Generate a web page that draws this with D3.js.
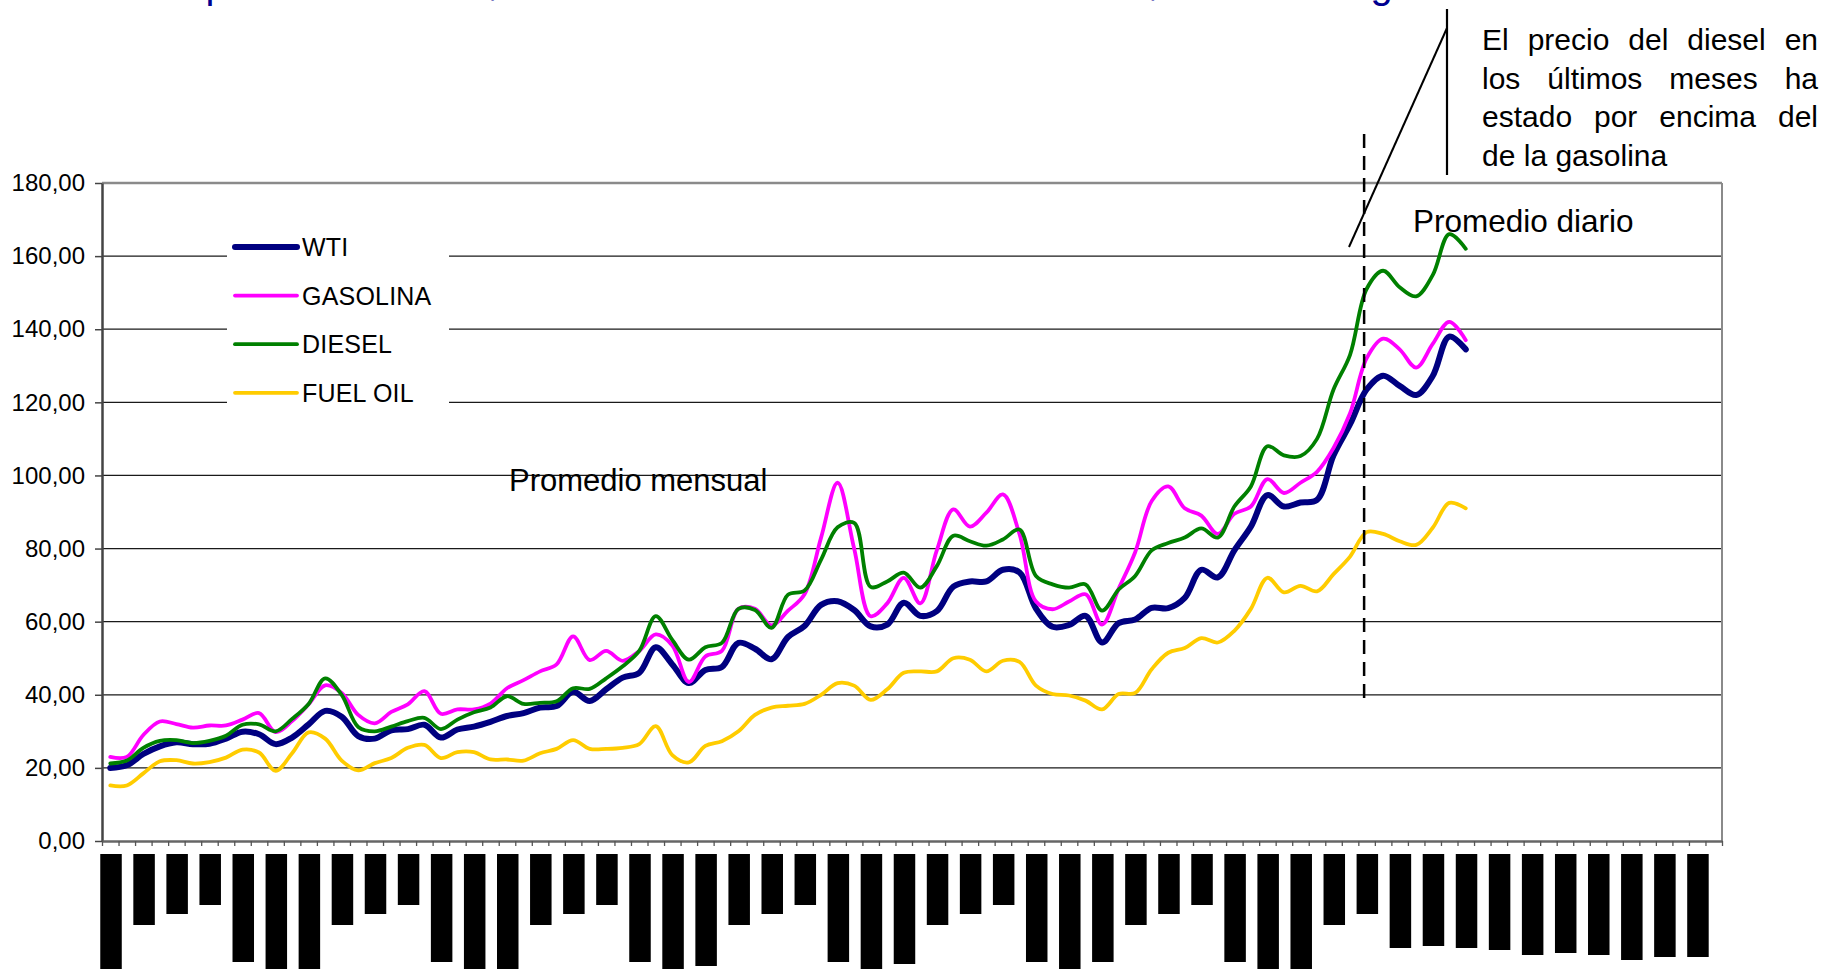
<!DOCTYPE html>
<html><head><meta charset="utf-8">
<script src="https://cdn.jsdelivr.net/npm/d3@7"></script>
<style>html,body{margin:0;padding:0;background:#fff;overflow:hidden}</style>
</head><body>
<svg id="chart" width="1827" height="969"></svg>
<script>
// ---------------- DATA ----------------
const seriesNames = ["WTI", "GASOLINA", "DIESEL", "FUEL OIL"];
const monthAbbr = ["ene","feb","mar","abr","may","jun","jul","ago","sep","oct","nov","dic"];
const categoryCount = 98;
const categories = d3.range(categoryCount).map(i => monthAbbr[i % 12] + "-" + String(2 + Math.floor(i / 12)).padStart(2, "0"));

const wti = [20.0,20.7,23.8,25.9,27.0,26.5,26.6,28.0,29.9,29.2,26.5,28.3,
  31.9,35.6,34.0,28.7,28.0,30.3,30.6,31.8,28.3,30.5,31.3,32.6,
  34.2,35.0,36.5,36.9,40.8,38.3,41.5,44.7,46.0,53.0,48.3,43.2,
  46.8,47.6,54.2,52.6,49.7,55.8,58.8,64.6,65.6,63.2,58.7,59.2,
  65.2,61.6,62.9,69.6,71.0,71.0,74.2,73.5,63.6,58.6,59.1,61.6,
  54.3,59.6,60.6,63.8,63.7,66.5,74.2,72.1,79.5,86.0,94.6,91.5,
  92.6,93.3,105.5,114.0,123.5,127.3,124.5,122.0,127.2,138.0,134.5];
const gasolina = [23.0,23.0,29.0,32.7,32.0,31.0,31.6,31.6,33.2,35.0,29.8,32.8,
  37.4,42.6,40.5,34.5,32.2,35.3,37.4,41.0,34.8,36.0,36.0,37.6,
  41.8,44.0,46.4,48.3,56.0,49.5,52.0,49.3,52.0,56.5,53.5,43.5,
  50.5,52.0,63.5,63.5,59.0,63.0,67.5,83.0,98.0,80.0,61.5,65.0,
  72.0,65.0,79.5,90.7,86.0,89.8,94.8,84.0,65.5,63.4,65.5,67.5,
  59.2,69.0,79.0,93.0,97.0,91.0,89.0,84.0,89.5,91.5,99.0,95.2,
  98.0,101.0,107.5,117.0,132.0,137.4,134.5,129.5,136.0,142.0,137.0];
const diesel = [21.2,22.0,25.5,27.4,27.6,26.8,27.4,28.8,31.8,31.9,30.0,33.4,
  37.5,44.5,40.0,31.2,30.0,31.3,32.8,33.7,30.6,33.2,35.2,36.5,
  39.6,37.5,37.8,38.2,41.8,41.6,44.5,47.8,52.0,61.5,55.0,49.6,
  53.0,54.2,63.5,63.2,58.3,67.4,68.5,77.0,85.8,87.0,69.5,71.0,
  73.4,69.3,75.2,83.5,82.0,80.8,82.5,85.2,72.5,70.2,69.3,70.2,
  63.0,68.8,72.5,79.5,81.5,83.0,85.5,83.0,91.5,97.0,108.0,105.5,
  105.3,110.0,123.5,133.0,151.0,156.0,151.5,149.0,154.8,166.0,162.0];
const fuelOil = [15.2,15.2,18.5,21.8,22.1,21.2,21.6,22.8,25.0,24.2,19.2,24.0,
  29.7,28.0,22.0,19.3,21.3,22.7,25.5,26.3,22.7,24.3,24.3,22.3,
  22.3,22.0,24.0,25.2,27.6,25.2,25.2,25.5,26.5,31.4,23.5,21.5,
  26.0,27.3,30.0,34.5,36.5,37.0,37.5,40.0,43.2,42.5,38.6,41.5,
  46.0,46.4,46.4,50.0,49.6,46.4,49.3,49.0,42.5,40.2,39.8,38.4,
  36.0,40.2,40.5,47.0,51.5,52.8,55.5,54.3,57.5,63.5,72.0,68.0,
  69.8,68.3,73.0,77.8,84.5,84.0,82.0,81.0,85.7,92.5,91.0];
const yTicks = [0,20,40,60,80,100,120,140,160,180];
// rotated date labels rendered as solid black blocks (extent)
const labelBlocks = [125,71,60,51,108,125,125,71,60,51,108,125,125,71,60,51,108,125,
  112,71,60,51,108,125,110,71,60,51,108,125,108,71,60,51,108,125,125,71,60,
  94,92,94,96,101,99,101,106,103,103];
const dividerIndex = 76.35; // monthly / daily split, in category units
const titleText = "Comparación de US$/bbl del crudo WTI vs. derivados US$/bbl hasta agosto del 2008";
const noteLines = ["El precio del diesel en", "los últimos meses ha", "estado por encima del", "de la gasolina"];
const labelMonthly = "Promedio mensual";
const labelDaily = "Promedio diario";

// ---------------- CHART ----------------
const seriesValues = [wti, gasolina, diesel, fuelOil];
const colors = ["#000080", "#FF00FF", "#008000", "#FFCC00"];
const widths = [6, 3.8, 3.8, 3.8];
const FONT = "'Liberation Sans', Arial, sans-serif";

const svg = d3.select("#chart");
svg.append("rect").attr("width", 1827).attr("height", 969).attr("fill", "#fff");

const L = 102, R = 1722, T = 183, B = 841;
const x = d3.scaleBand().domain(categories).range([L, R]).padding(0);
const bw = x.bandwidth();
const xc = i => x(categories[i]) + bw / 2;
const xLin = d3.scaleLinear().domain([0, categoryCount]).range([L, R]);
const y = d3.scaleLinear().domain([0, 180]).range([B, T]);

// gridlines
svg.append("g").selectAll("line").data(yTicks.filter(v => v > 0 && v < 180)).join("line")
  .attr("x1", L).attr("x2", R).attr("y1", d => y(d)).attr("y2", d => y(d))
  .attr("stroke", "#1a1a1a").attr("stroke-width", 1.3);
// plot border top/right
svg.append("line").attr("x1", L).attr("x2", R).attr("y1", y(180)).attr("y2", y(180))
  .attr("stroke", "#8a8a8a").attr("stroke-width", 2.5);
svg.append("line").attr("x1", R).attr("x2", R).attr("y1", y(180)).attr("y2", y(0))
  .attr("stroke", "#8a8a8a").attr("stroke-width", 2);

// y axis
const fmt = d3.formatLocale({decimal: ",", thousands: ".", grouping: [3], currency: ["", ""]}).format(".2f");
const yAxis = svg.append("g").attr("transform", `translate(${L},0)`)
  .call(d3.axisLeft(y).tickValues(yTicks).tickSize(7).tickSizeOuter(0).tickPadding(10).tickFormat(fmt));
yAxis.select(".domain").attr("stroke", "#444").attr("stroke-width", 2.5);
yAxis.selectAll(".tick line").attr("stroke", "#444").attr("stroke-width", 1.5);
yAxis.selectAll(".tick text").attr("font-family", FONT).attr("font-size", 24).attr("fill", "#000");

// x axis
const xAxis = svg.append("g").attr("transform", `translate(0,${B})`)
  .call(d3.axisBottom(xLin).tickValues(d3.range(categoryCount + 1)).tickSize(5).tickSizeOuter(0).tickFormat(""));
xAxis.select(".domain").attr("stroke", "#666").attr("stroke-width", 2.5);
xAxis.selectAll(".tick line").attr("stroke", "#555").attr("stroke-width", 1.3);

// label blocks under the axis
const blockLen = d3.scaleLinear().domain([0, 100]).range([0, 100]);
svg.append("g").selectAll("rect").data(labelBlocks).join("rect")
  .attr("x", (d, j) => xc(2 * j) - 10).attr("width", 21.5)
  .attr("y", B + 13).attr("height", d => blockLen(d))
  .attr("fill", "#000");

// legend
const lg = svg.append("g");
lg.append("rect").attr("x", 227).attr("y", 222).attr("width", 222).attr("height", 194).attr("fill", "#fff");
seriesNames.forEach((name, k) => {
  const yy = 247 + 48.6 * k;
  lg.append("line").attr("x1", 235).attr("x2", 297).attr("y1", yy).attr("y2", yy)
    .attr("stroke", colors[k]).attr("stroke-width", widths[k]).attr("stroke-linecap", "round");
  lg.append("text").attr("x", 302).attr("y", yy + 9).attr("font-family", FONT).attr("font-size", 25)
    .attr("letter-spacing", 0.2).attr("fill", "#000").text(name);
});

// series lines
const line = d3.line().x((d, i) => xc(i)).y(d => y(d)).curve(d3.curveCatmullRom.alpha(0.5));
seriesValues.forEach((vals, k) => {
  svg.append("path").datum(vals).attr("d", line).attr("fill", "none")
    .attr("stroke", colors[k]).attr("stroke-width", widths[k])
    .attr("stroke-linejoin", "round").attr("stroke-linecap", "round");
});

// divider dashed line
svg.append("line").attr("x1", xLin(dividerIndex)).attr("x2", xLin(dividerIndex))
  .attr("y1", 134).attr("y2", 705).attr("stroke", "#000").attr("stroke-width", 2.5)
  .attr("stroke-dasharray", "14,8");

// annotation lines
svg.append("line").attr("x1", 1349).attr("y1", 247).attr("x2", 1447).attr("y2", 28)
  .attr("stroke", "#000").attr("stroke-width", 2);
svg.append("line").attr("x1", 1447).attr("y1", 9).attr("x2", 1447).attr("y2", 175)
  .attr("stroke", "#000").attr("stroke-width", 2.2);

// text labels
svg.append("text").attr("x", 509).attr("y", 491).attr("font-family", FONT).attr("font-size", 31)
  .attr("fill", "#000").text(labelMonthly);
svg.append("text").attr("x", 1413).attr("y", 232).attr("font-family", FONT).attr("font-size", 31.5)
  .attr("fill", "#000").text(labelDaily);

// title (cut off at the top, as in the original)
svg.append("text").attr("x", 121).attr("y", -2).attr("font-family", FONT).attr("font-size", 40)
  .attr("fill", "#000090").text(titleText);

// justified note
const noteX0 = 1482, noteX1 = 1818, noteSize = 30;
noteLines.forEach((ln, li) => {
  const words = ln.split(" ");
  const yb = 50 + 38.5 * li;
  const t = svg.append("text").attr("y", yb).attr("font-family", FONT).attr("font-size", noteSize).attr("fill", "#000");
  const tmp = svg.append("text").attr("font-family", FONT).attr("font-size", noteSize);
  const ws = words.map(w => { tmp.text(w); return tmp.node().getComputedTextLength(); });
  tmp.text("a a"); const sp3 = tmp.node().getComputedTextLength();
  tmp.text("aa"); const sp = sp3 - tmp.node().getComputedTextLength();
  tmp.remove();
  const total = d3.sum(ws);
  const last = li === noteLines.length - 1;
  const gap = last ? sp : (noteX1 - noteX0 - total) / (words.length - 1);
  let cx = noteX0;
  words.forEach((w, i) => {
    t.append("tspan").attr("x", cx).text(i < words.length - 1 ? w + " " : w);
    cx += ws[i] + gap;
  });
});
</script>
</body></html>
